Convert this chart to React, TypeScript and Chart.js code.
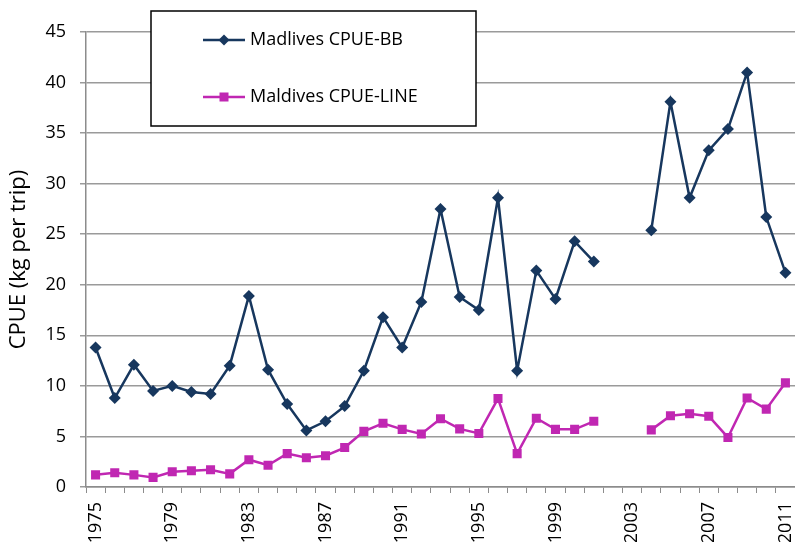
import React, { useEffect, useRef } from "react";
import { Chart, registerables } from "chart.js";

Chart.register(...registerables);

const years: string[] = [];
for (let y = 1975; y <= 2011; y++) years.push(String(y));

const bbValues: (number | null)[] = [
  13.8, 8.8, 12.1, 9.5, 10.0, 9.4, 9.2, 12.0, 18.9, 11.6,
  8.2, 5.6, 6.5, 8.0, 11.5, 16.8, 13.8, 18.3, 27.5, 18.8,
  17.5, 28.6, 11.5, 21.4, 18.6, 24.3, 22.3, null, null, 25.4,
  38.1, 28.6, 33.3, 35.4, 41.0, 26.7, 21.2,
];

const lineValues: (number | null)[] = [
  1.2, 1.4, 1.2, 0.95, 1.5, 1.6, 1.7, 1.3, 2.7, 2.15,
  3.3, 2.9, 3.1, 3.9, 5.5, 6.3, 5.7, 5.25, 6.75, 5.75,
  5.3, 8.75, 3.3, 6.8, 5.7, 5.7, 6.5, null, null, 5.65,
  7.05, 7.25, 7.0, 4.9, 8.8, 7.7, 10.3,
];

const yTicks = [0, 5, 10, 15, 20, 25, 30, 35, 40, 45];

const seriesLabels = ["Madlives CPUE-BB", "Maldives CPUE-LINE"];
const navy = "#17375E";
const magenta = "#C027B2";
const FONT = "'Open Sans', sans-serif";

const legendPlugin = {
  id: "boxLegend",
  afterDraw(chart: any) {
    const ctx = chart.ctx;
    const x0 = 151, y0 = 11, w = 325, h = 115;
    ctx.save();
    ctx.fillStyle = "#ffffff";
    ctx.fillRect(x0, y0, w, h);
    ctx.strokeStyle = "#000000";
    ctx.lineWidth = 1.5;
    ctx.strokeRect(x0, y0, w, h);
    const rows = [40, 97];
    chart.data.datasets.forEach((ds: any, i: number) => {
      const cy = rows[i];
      ctx.strokeStyle = ds.borderColor;
      ctx.lineWidth = 2.5;
      ctx.beginPath();
      ctx.moveTo(203, cy);
      ctx.lineTo(245, cy);
      ctx.stroke();
      ctx.fillStyle = ds.backgroundColor;
      if (ds.pointStyle === "rectRot") {
        ctx.beginPath();
        ctx.moveTo(224 - 5.5, cy);
        ctx.lineTo(224, cy - 5.5);
        ctx.lineTo(224 + 5.5, cy);
        ctx.lineTo(224, cy + 5.5);
        ctx.closePath();
        ctx.fill();
      } else {
        ctx.fillRect(224 - 4.5, cy - 4.5, 9, 9);
      }
      ctx.fillStyle = "#000000";
      ctx.font = `18px ${FONT}`;
      ctx.textBaseline = "middle";
      ctx.textAlign = "left";
      ctx.fillText(ds.label, 250, cy);
    });
    ctx.restore();
  },
};

export default function App() {
  const ref = useRef<HTMLCanvasElement | null>(null);
  useEffect(() => {
    document.body.style.margin = "0";
    const canvas = ref.current!;
    const chart = new Chart(canvas, {
      type: "line",
      data: {
        labels: years,
        datasets: [
          {
            label: seriesLabels[0],
            data: bbValues,
            borderColor: navy,
            backgroundColor: navy,
            borderWidth: 2.5,
            pointStyle: "rectRot",
            pointRadius: 6,
            pointBorderWidth: 0,
            pointBackgroundColor: navy,
            tension: 0,
            spanGaps: false,
          },
          {
            label: seriesLabels[1],
            data: lineValues,
            borderColor: magenta,
            backgroundColor: magenta,
            borderWidth: 2.5,
            pointStyle: "rect",
            pointRadius: 6.4,
            pointBorderWidth: 0,
            pointBackgroundColor: magenta,
            tension: 0,
            spanGaps: false,
          },
        ],
      },
      options: {
        responsive: false,
        animation: false,
        layout: { autoPadding: false, padding: { top: 32, right: 0, left: 0, bottom: 0 } },
        plugins: {
          legend: { display: false },
          tooltip: { enabled: false },
        },
        scales: {
          x: {
            type: "category",
            offset: true,
            grid: {
              display: true,
              offset: true,
              drawOnChartArea: false,
              drawTicks: true,
              tickLength: 6,
              color: "#8c8c8c",
              lineWidth: 1,
            },
            border: { display: true, color: "#8c8c8c", width: 1.5 },
            ticks: {
              autoSkip: false,
              maxRotation: 90,
              minRotation: 90,
              padding: 9,
              color: "#000000",
              font: { family: FONT, size: 18 },
              callback: (_v: any, i: number) =>
                (Number(years[i]) - 1975) % 4 === 0 ? years[i] : "",
            },
            afterFit: (s: any) => {
              s.height = 55;
              s.paddingRight = 0;
              s.paddingLeft = 0;
            },
          },
          y: {
            min: 0,
            max: 45,
            afterBuildTicks: (s: any) => {
              s.ticks = yTicks.map((v) => ({ value: v }));
            },
            grid: {
              color: "#9a9a9a",
              lineWidth: 1.5,
              tickLength: 6,
              drawTicks: true,
            },
            border: { display: true, color: "#8c8c8c", width: 1.5 },
            ticks: {
              padding: 14,
              color: "#000000",
              font: { family: FONT, size: 18 },
            },
            title: {
              display: true,
              text: "CPUE (kg per trip)",
              color: "#000000",
              font: { family: FONT, size: 22 },
              padding: { top: 6, bottom: 0 },
            },
            afterFit: (s: any) => {
              s.width = 86;
            },
          },
        },
      },
      plugins: [legendPlugin],
    });
    return () => chart.destroy();
  }, []);
  return <canvas ref={ref} width={795} height={542} style={{ display: "block" }} />;
}
